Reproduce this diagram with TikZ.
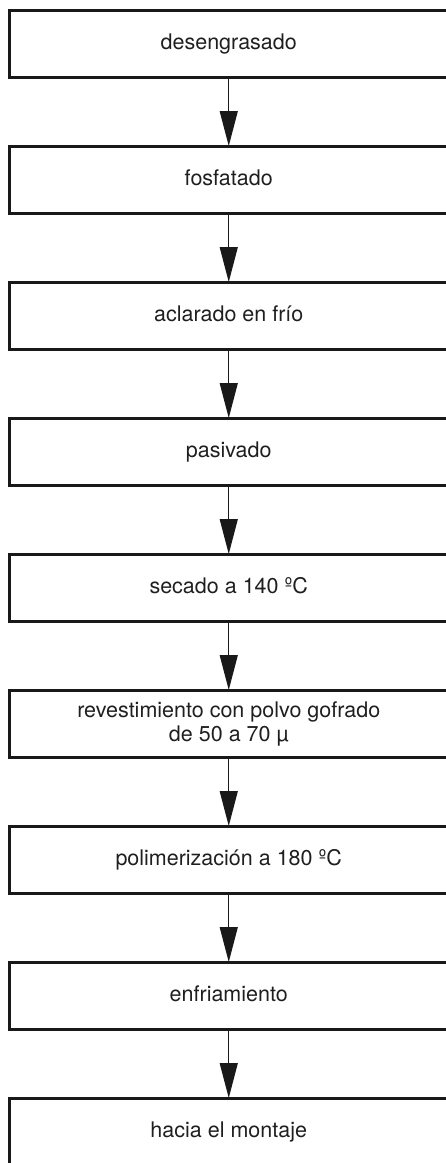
\documentclass[tikz,border=0pt]{standalone}
\usepackage{fontspec}
\setmainfont{TeX Gyre Heros}
\usetikzlibrary{arrows.meta,positioning}

\begin{document}
\begin{tikzpicture}[x=1pt,y=1pt,
  paso/.style={draw=black!90, line width=3pt, outer sep=0pt, minimum width=438pt,
    minimum height=67.5pt, align=center, text=black!88, text height=15.5pt, text depth=4.5pt,
    font=\fontsize{21.5}{23.5}\selectfont},
  flecha/.style={line width=1.3pt, black!90, -{Triangle[length=35pt,width=18pt]}},
  node distance=68.5pt]

\useasboundingbox (0,0) rectangle (445,-1163);

\node[paso] (desengrasado) at (228.75,-43.75) {desengrasado};
\node[paso, below=of desengrasado] (fosfatado) {fosfatado};
\node[paso, below=of fosfatado] (aclarado) {aclarado en frío};
\node[paso, below=of aclarado] (pasivado) {pasivado};
\node[paso, below=of pasivado] (secado) {secado a 140 ºC};
\node[paso, below=of secado, text height=, text depth=] (revest) {revestimiento con polvo gofrado\\de 50 a 70 µ};
\node[paso, below=of revest] (polim) {polimerización a 180 ºC};
\node[paso, below=of polim] (enfri) {enfriamiento};
\node[paso, below=of enfri] (montaje) {hacia el montaje};

\draw[flecha] (desengrasado) -- (fosfatado);
\draw[flecha] (fosfatado) -- (aclarado);
\draw[flecha] (aclarado) -- (pasivado);
\draw[flecha] (pasivado) -- (secado);
\draw[flecha] (secado) -- (revest);
\draw[flecha] (revest) -- (polim);
\draw[flecha] (polim) -- (enfri);
\draw[flecha] (enfri) -- (montaje);
\end{tikzpicture}
\end{document}
